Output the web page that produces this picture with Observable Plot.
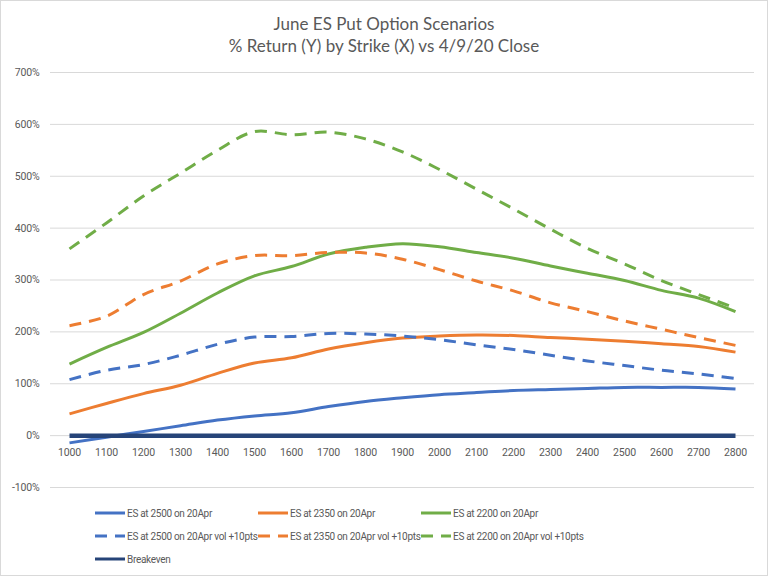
<!DOCTYPE html>
<html>
<head>
<meta charset="utf-8">
<script src="https://cdn.jsdelivr.net/npm/d3@7"></script>
<script src="https://cdn.jsdelivr.net/npm/@observablehq/plot@0.6"></script>
<style>
  html, body { margin: 0; padding: 0; background: #fff; }
  #wrap { position: relative; width: 768px; height: 576px; overflow: hidden; background: #fff; }
  #border { position: absolute; left: 0; top: 0; width: 766px; height: 574px; border: 1px solid #d9d9d9; pointer-events: none; }
  .title { position: absolute; left: 0; width: 768px; text-align: center; font-family: Lato, "Open Sans", sans-serif; font-size: 17px; color: #595959; line-height: 1; white-space: nowrap; }
  #plot { position: absolute; left: 0; top: 60px; }
  #legend { position: absolute; left: 0; top: 500px; }
</style>
</head>
<body>
<div id="wrap">
  <div class="title" id="t1" style="top:15px">June ES Put Option Scenarios</div>
  <div class="title" id="t2" style="top:37px">% Return (Y) by Strike (X) vs 4/9/20 Close</div>
  <div id="plot"></div>
  <div id="legend"></div>
  <div id="border"></div>
</div>
<script>
const strikes = [1000, 1100, 1200, 1300, 1400, 1500, 1600, 1700, 1800, 1900, 2000, 2100, 2200, 2300, 2400, 2500, 2600, 2700, 2800];
const yTicks = [-100, 0, 100, 200, 300, 400, 500, 600, 700];

const es2500 = [-14, -3, 8, 19, 30, 38, 44, 56, 66, 73, 79, 83, 87, 89, 91, 93, 93, 93, 90];
const es2350 = [42, 62, 81, 97, 120, 140, 150, 167, 179, 188, 192, 194, 193, 189, 186, 182, 177, 172, 161];
const es2200 = [138, 170, 199, 236, 275, 308, 326, 350, 363, 370, 364, 353, 342, 327, 313, 299, 280, 265, 239];
const es2500v = [108, 126, 137, 155, 176, 190, 191, 197, 196, 192, 185, 175, 166, 155, 144, 135, 126, 119, 110];
const es2350v = [212, 230, 272, 298, 331, 347, 347, 353, 352, 340, 320, 298, 279, 256, 239, 221, 205, 189, 174];
const es2200v = [360, 410, 462, 506, 550, 586, 580, 585, 572, 547, 513, 475, 437, 398, 361, 331, 299, 272, 246];
const breakeven = [0, 0, 0, 0, 0, 0, 0, 0, 0, 0, 0, 0, 0, 0, 0, 0, 0, 0, 0];

const seriesNames = [
  "ES at 2500 on 20Apr", "ES at 2350 on 20Apr", "ES at 2200 on 20Apr",
  "ES at 2500 on 20Apr vol +10pts", "ES at 2350 on 20Apr vol +10pts", "ES at 2200 on 20Apr vol +10pts",
  "Breakeven"
];
const seriesValues = [es2500, es2350, es2200, es2500v, es2350v, es2200v, breakeven];
const seriesColors = ["#4472C4", "#ED7D31", "#70AD47", "#4472C4", "#ED7D31", "#70AD47", "#264478"];
const seriesDashed = [false, false, false, true, true, true, false];

const FONT = 'Roboto, "Noto Sans", sans-serif';
const DASH = "12,8";

const series = seriesNames.map((name, i) => ({
  name, color: seriesColors[i], dashed: seriesDashed[i],
  rows: strikes.map((s, j) => ({strike: s, value: seriesValues[i][j]}))
}));

const lineMarks = series.map(s => Plot.line(s.rows, {
  x: "strike", y: "value",
  stroke: s.color,
  strokeWidth: s.name === "Breakeven" ? 4.5 : 3,
  strokeDasharray: s.dashed ? DASH : null,
  curve: s.name === "Breakeven" ? "linear" : "catmull-rom",
  strokeLinecap: "butt",
  strokeLinejoin: "round"
}));

const chart = Plot.plot({
  width: 768,
  height: 440,
  marginLeft: 50,
  marginRight: 14,
  marginTop: 12,
  marginBottom: 13,
  style: {fontFamily: FONT, fontSize: "10.5px", color: "#595959", background: "transparent", letterSpacing: "-0.15px"},
  x: {type: "point", domain: strikes, padding: 0.5, axis: null},
  y: {domain: [-100, 700], ticks: yTicks, axis: null},
  marks: [
    Plot.gridY(yTicks, {stroke: "#d9d9d9", strokeOpacity: 1, strokeWidth: 1}),
    Plot.axisY(yTicks, {tickSize: 0, tickPadding: 11, tickFormat: d => d + "%", fill: "#595959", fontSize: 10.5, label: null}),
    Plot.text(strikes, {x: d => d, y: () => 0, dy: 17, text: d => String(d), fill: "#595959", fontSize: 10.5}),
    ...lineMarks
  ]
});
document.getElementById("plot").appendChild(chart);

// Legend
const legendPos = [
  [95, 513], [258, 513], [421, 513],
  [95, 536], [258, 536], [421, 536],
  [95, 559]
];
const lsvg = d3.select("#legend").append("svg").attr("width", 768).attr("height", 76)
  .style("display", "block");
series.forEach((s, i) => {
  const [x, y] = legendPos[i];
  const yy = y - 500;
  lsvg.append("line")
    .attr("x1", x).attr("x2", x + 30).attr("y1", yy).attr("y2", yy)
    .attr("stroke", s.color).attr("stroke-width", 3)
    .attr("stroke-dasharray", s.dashed ? DASH : null);
  lsvg.append("text")
    .attr("x", x + 32).attr("y", yy).attr("dy", "0.35em")
    .attr("fill", "#595959").attr("font-family", FONT).attr("font-size", 10)
    .attr("letter-spacing", "-0.3px")
    .text(s.name);
});
</script>
</body>
</html>
